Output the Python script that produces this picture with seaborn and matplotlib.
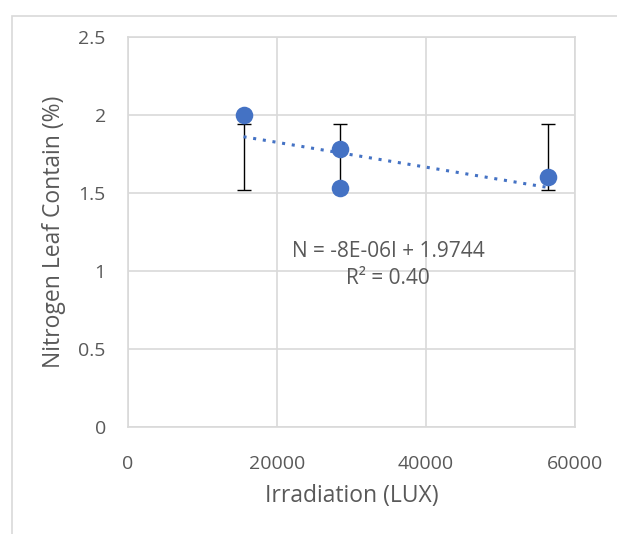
import numpy as np
import pandas as pd
import matplotlib
matplotlib.use("Agg")
import matplotlib.pyplot as plt
from matplotlib.patches import Rectangle
import seaborn as sns

# datos
irradiation = [15500, 28500, 28500, 56400]
nitrogen = [2.0, 1.78, 1.53, 1.60]

# barras de error (personalizadas, no centradas en los puntos)
err_x = [15500, 28500, 56400]
err_low = [1.52, 1.52, 1.52]
err_high = [1.94, 1.94, 1.94]

x_ticks = [0, 20000, 40000, 60000]
y_ticks = [0, 0.5, 1, 1.5, 2, 2.5]
y_tick_labels = ["0", "0.5", "1", "1.5", "2", "2.5"]

equation_text = "N = -8E-06I + 1.9744\nR² = 0.40"

TEXT_COLOR = "#595959"
GRID_COLOR = "#D9D9D9"
POINT_COLOR = "#4472C4"

sns.set_style("white")
plt.rcParams['font.family'] = ['Open Sans', 'DejaVu Sans']

df = pd.DataFrame({"Irradiation": irradiation, "Nitrogen": nitrogen})

fig = plt.figure(figsize=(6.17, 5.34), dpi=100)
ax = fig.add_axes([0.2075, 0.2004, 0.7245, 0.7303])

# marco exterior del grafico
fig.patches.append(Rectangle((12 / 617, -0.1), 1.2, 1 - 16 / 534 + 0.1,
                             transform=fig.transFigure, fill=False,
                             edgecolor=GRID_COLOR, linewidth=1.2))

# linea de tendencia
sns.regplot(data=df, x="Irradiation", y="Nitrogen", ax=ax, scatter=False,
            ci=None, truncate=True,
            line_kws={"color": POINT_COLOR, "linestyle": (0, (1, 2.2)),
                      "linewidth": 2.2, "zorder": 3})

# barras de error
mid = [(lo + hi) / 2 for lo, hi in zip(err_low, err_high)]
half = [(hi - lo) / 2 for lo, hi in zip(err_low, err_high)]
ax.errorbar(err_x, mid, yerr=half, fmt="none", ecolor="black",
            elinewidth=1, capsize=5, capthick=1, zorder=2)

sns.scatterplot(data=df, x="Irradiation", y="Nitrogen", ax=ax, s=160,
                color=POINT_COLOR, edgecolor=POINT_COLOR, linewidth=0, zorder=4)

ax.text(0.582, 0.415, equation_text, transform=ax.transAxes, ha="center",
        va="center", fontsize=15, color=TEXT_COLOR, linespacing=1.4)

ax.set_xlim(0, 60000)
ax.set_ylim(0, 2.5)
ax.set_xticks(x_ticks)
ax.set_yticks(y_ticks)
ax.set_xticklabels([str(t) for t in x_ticks])
ax.set_yticklabels(y_tick_labels)
ax.grid(True, color=GRID_COLOR, linewidth=1.2)
ax.set_axisbelow(True)
for s in ax.spines.values():
    s.set_color(GRID_COLOR)
    s.set_linewidth(1.2)
ax.tick_params(axis="both", length=0, labelsize=14, colors=TEXT_COLOR)
ax.tick_params(axis="y", pad=16)
ax.tick_params(axis="x", pad=20)
ax.set_xlabel("Irradiation (LUX)", fontsize=16.5, color=TEXT_COLOR, labelpad=8)
ax.set_ylabel("Nitrogen Leaf Contain (%)", fontsize=16.5, color=TEXT_COLOR, labelpad=9)

fig.savefig("out.png", dpi=100)
plt.close(fig)
